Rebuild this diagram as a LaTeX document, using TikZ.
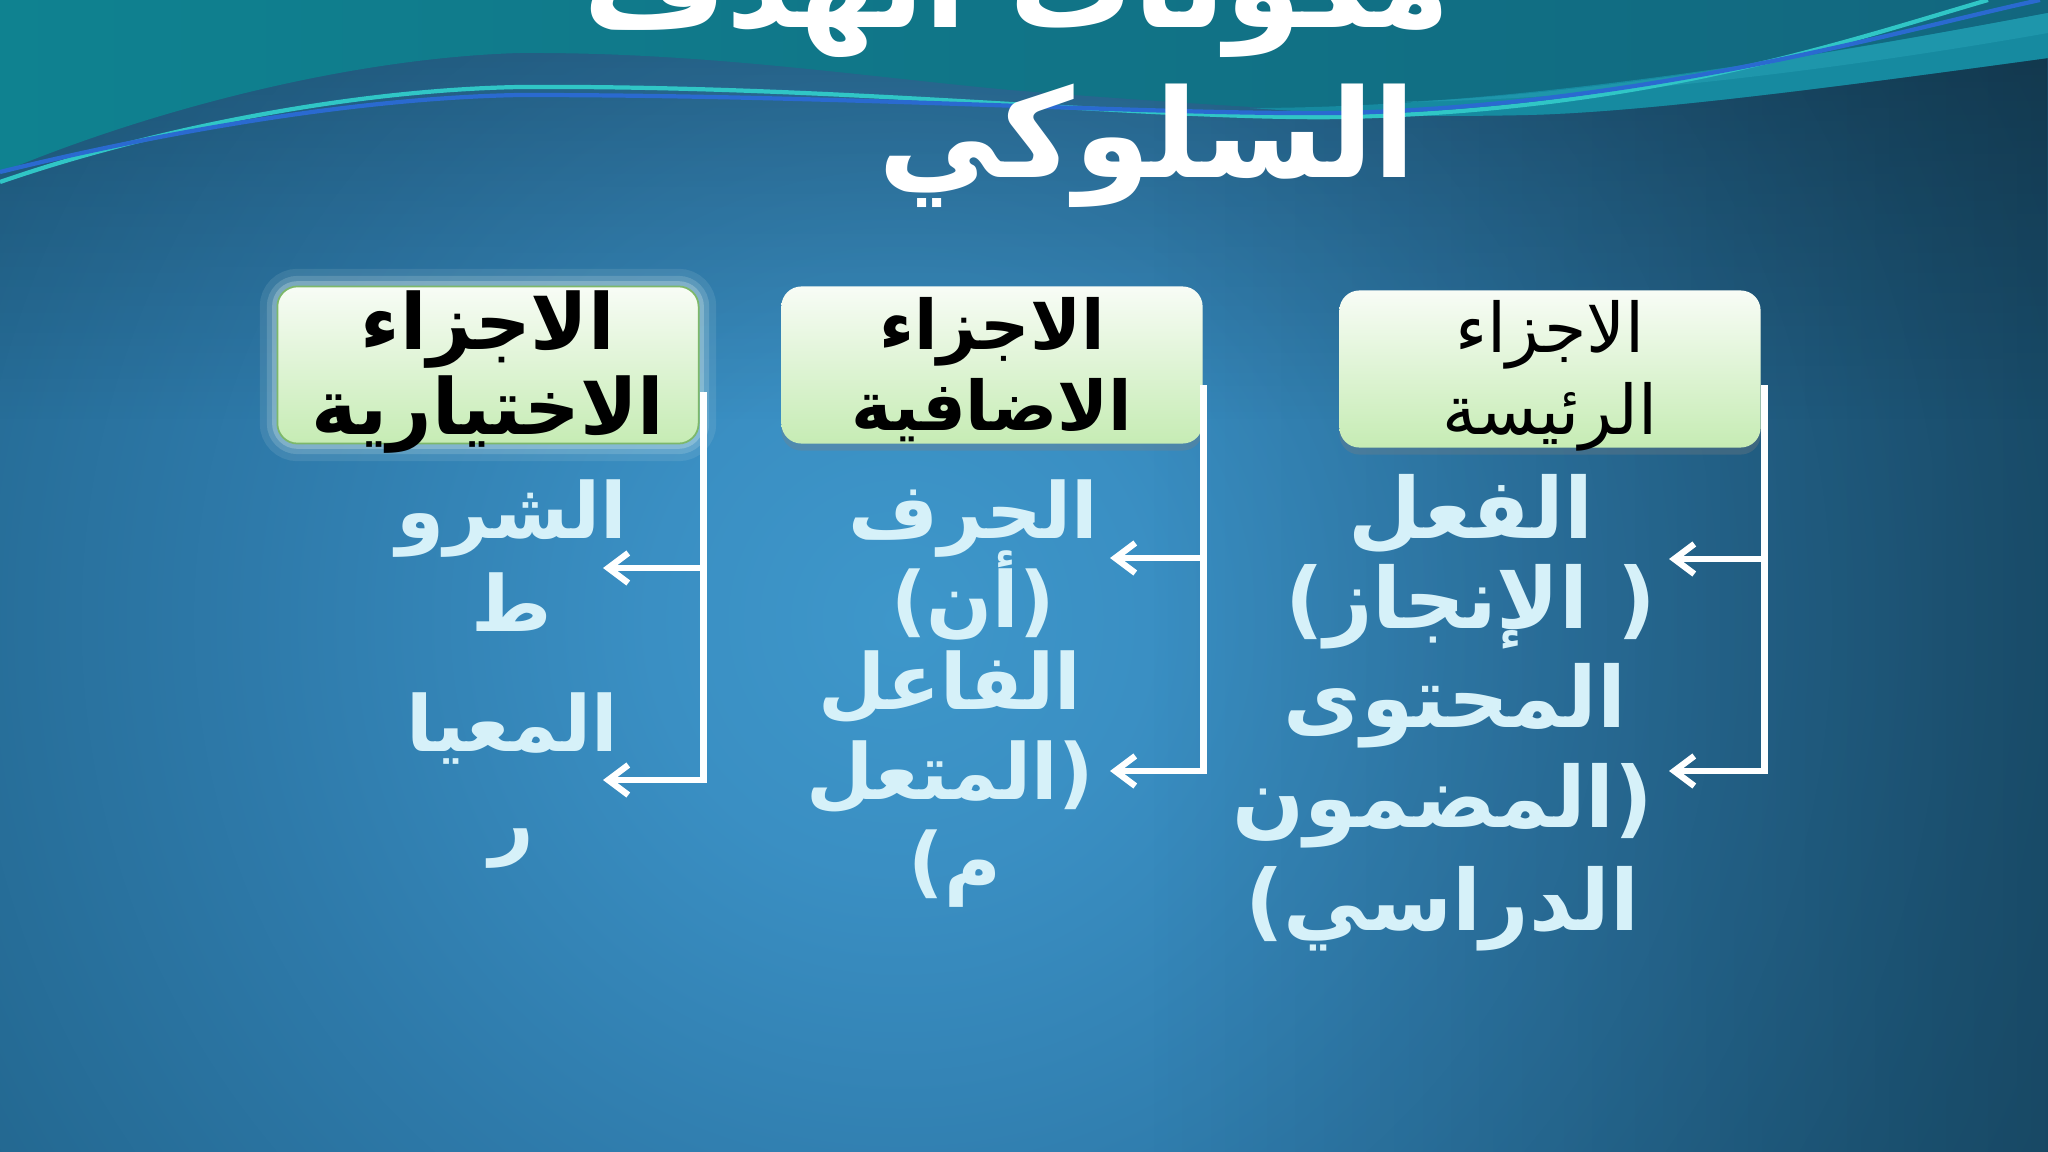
\documentclass[tikz,border=0pt]{standalone}
\usepackage{fontspec}
\newfontfamily\arabicfont[Script=Arabic]{DejaVu Sans}
\TeXXeTstate=1
\usetikzlibrary{arrows.meta,shadows,fadings,positioning}

\definecolor{bgin}{HTML}{3E97CA}
\definecolor{bgmid}{HTML}{3A8FC3}
\definecolor{bgmid2}{HTML}{2E7AAA}
\definecolor{bgout}{HTML}{22668E}
\definecolor{bgout2}{HTML}{1B5676}
\definecolor{bgdark}{HTML}{123F58}
\definecolor{topteal}{HTML}{0F8290}
\definecolor{topblue}{HTML}{12677F}
\definecolor{waveband}{HTML}{168AA0}
\definecolor{wavelight}{HTML}{1E96AB}
\definecolor{linecyan}{HTML}{30C6C6}
\definecolor{lineblue}{HTML}{2A6AD0}
\definecolor{itemtext}{HTML}{D6F1F9}
\definecolor{boxtop}{HTML}{F8FCF6}
\definecolor{boxbottom}{HTML}{C6ECB4}
\definecolor{boxedge}{HTML}{7DB86A}
\definecolor{glowcol}{HTML}{EAF8F2}

\pgfdeclareradialshading{bgglow}{\pgfpoint{0bp}{0bp}}{color(0bp)=(bgin); color(5bp)=(bgmid); color(13bp)=(bgmid2); color(22bp)=(bgout); color(32bp)=(bgout2); color(50bp)=(bgdark)}

\newcommand{\artext}[1]{{\arabicfont\beginR #1\endR}}

\begin{document}
\begin{tikzpicture}[x=0.01cm, y=-0.01cm,
    part/.style={rounded corners=2mm, minimum width=4.21cm, minimum height=1.57cm,
        top color=boxtop, bottom color=boxbottom, draw=boxedge, line width=0.5pt, inner sep=0pt},
    head/.style={font=\fontsize{19.5}{23}\selectfont\bfseries, text=black, inner sep=0pt, anchor=base},
    item/.style={font=\fontsize{22}{26}\selectfont\bfseries, text=itemtext, inner sep=0pt, anchor=base},
    title/.style={font=\fontsize{35}{40}\selectfont\bfseries, text=white, inner sep=0pt, anchor=base},
    link/.style={draw=white, line width=1.8pt, -{Straight Barb[length=2mm,width=3mm]}}
]
\useasboundingbox (0,0) rectangle (2048,1152);
\clip (0,0) rectangle (2048,1152);

% background
\shade[shading=bgglow] (-350,-630) rectangle (2150,1870);
\fill[black, opacity=0.25, path fading=west] (1150,0) rectangle (2048,1152);
\fill[black, opacity=0.25, path fading=south] (0,0) rectangle (2048,420);
\shade[left color=topteal, right color=topblue]
    (0,0) -- (2048,0) -- (2048,58) .. controls (1850,85) and (1650,112) .. (1528,115)
    .. controls (1400,118) and (1200,105) .. (1010,90) .. controls (850,75) and (700,52) .. (520,53)
    .. controls (350,58) and (150,110) .. (0,173) -- cycle;
\fill[waveband]
    (1250,108) .. controls (1500,108) and (1800,60) .. (2048,13) -- (2048,58)
    .. controls (1850,85) and (1650,112) .. (1528,115) .. controls (1400,118) and (1320,113) .. (1250,108) -- cycle;
\fill[wavelight]
    (1400,102) .. controls (1600,95) and (1850,50) .. (2048,13) -- (2048,33)
    .. controls (1850,68) and (1600,100) .. (1400,102) -- cycle;
\draw[linecyan, line width=1.2pt] (0,182) .. controls (150,130) and (350,90) .. (520,87)
    .. controls (850,85) and (1150,120) .. (1343,117) .. controls (1650,110) and (1850,40) .. (1988,0);
\draw[lineblue, line width=1.2pt] (0,172) .. controls (150,135) and (350,98) .. (520,95)
    .. controls (850,95) and (1150,115) .. (1343,113) .. controls (1650,105) and (1900,30) .. (2040,0);

% title
\node[title] (title1) at (1017,28) {\artext{مكونات الهدف}};
\node[title] (title2) at (1147,178) {\artext{السلوكي}};

% boxes
\node[part, preaction={draw=glowcol, opacity=0.1, line width=10pt},
    preaction={draw=glowcol, opacity=0.16, line width=6pt},
    preaction={draw=glowcol, opacity=0.25, line width=3pt}] (lbox) at (488,365) {};
\node[part, draw=none, drop shadow={shadow xshift=0pt, shadow yshift=-2pt, opacity=0.3}] (mbox) at (992,365) {};
\node[part, draw=none, drop shadow={shadow xshift=0pt, shadow yshift=-2pt, opacity=0.3}] (rbox) at (1550,369) {};

\node[head, font=\fontsize{22}{26}\selectfont\bfseries] (lh1) at (488,350) {\artext{الاجزاء}};
\node[head, font=\fontsize{22}{26}\selectfont\bfseries] (lh2) at (488,435) {\artext{الاختيارية}};
\node[head] (mh1) at (992,350) {\artext{الاجزاء}};
\node[head] (mh2) at (992,431) {\artext{الاضافية}};
\node[head, font=\fontsize{19.5}{23}\selectfont] (rh1) at (1550,353) {\artext{الاجزاء}};
\node[head, font=\fontsize{19.5}{23}\selectfont] (rh2) at (1550,435) {\artext{الرئيسة}};

% items
\foreach \word/\x/\y [count=\i] in {الشرو/512/539, ط/512/631, المعيا/512/751, ر/512/849}
    \node[item] (l\i) at (\x,\y) {\artext{\word}};
\foreach \word/\x/\y [count=\i] in {الحرف/973/538, {(أن)}/973/627, الفاعل/950/709, {(المتعل}/950/799, {م)}/955/888}
    \node[item] (m\i) at (\x,\y) {\artext{\word}};
\foreach \word/\x/\y [count=\i] in {الفعل/1471/538, {( الإنجاز)}/1471/629, المحتوى/1455/727, {(المضمون}/1443/827, {الدراسي)}/1442/930}
    \node[item, font=\fontsize{24}{28}\selectfont\bfseries] (r\i) at (\x,\y) {\artext{\word}};

% connectors
\coordinate (ltip1) at (603,568);
\coordinate (ltip2) at (603,780);
\coordinate (mtip1) at (1110,558);
\coordinate (mtip2) at (1110,771);
\coordinate (rtip1) at (1669,559);
\coordinate (rtip2) at (1669,771);
\draw[link] ([xshift=0.4mm,yshift=-2.7mm]lbox.east) |- (ltip2);
\draw[link] ([xshift=0.4mm,yshift=-2.7mm]lbox.east) |- (ltip1);
\draw[link] ([yshift=-2mm]mbox.east) |- (mtip2);
\draw[link] ([yshift=-2mm]mbox.east) |- (mtip1);
\draw[link] ([xshift=0.3mm,yshift=-1.6mm]rbox.east) |- (rtip2);
\draw[link] ([xshift=0.3mm,yshift=-1.6mm]rbox.east) |- (rtip1);
\end{tikzpicture}
\end{document}
